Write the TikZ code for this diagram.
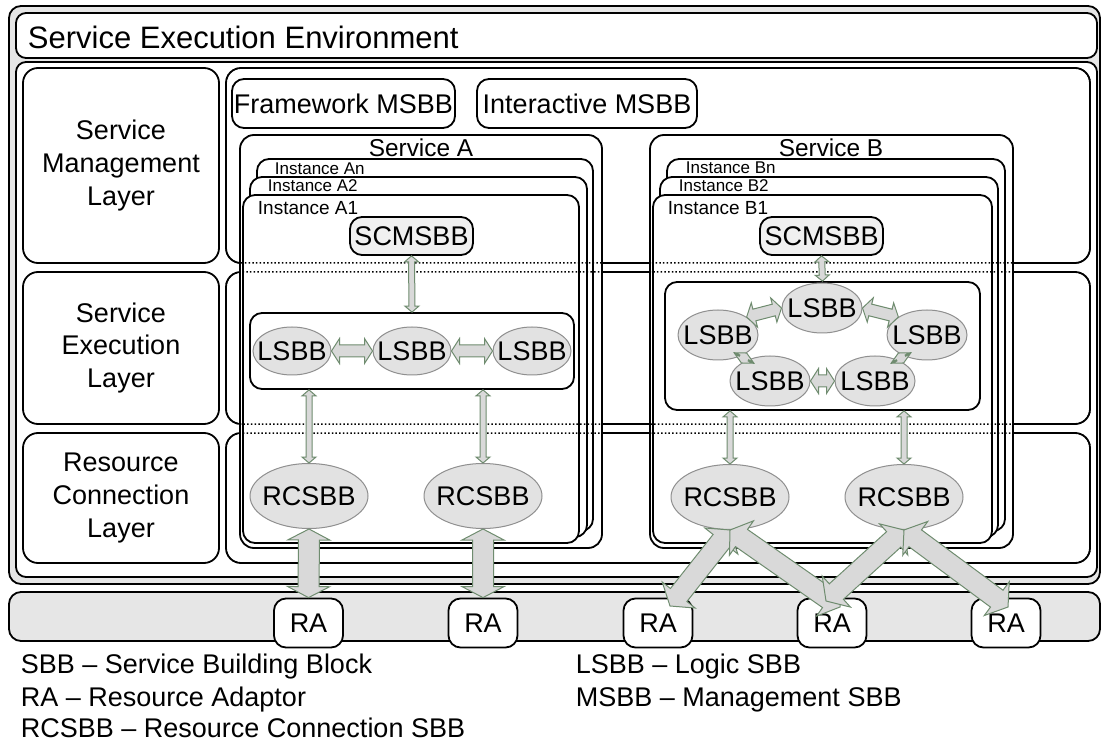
\documentclass[tikz,border=0pt]{standalone}
\usepackage{fontspec}
\setmainfont{Liberation Sans}
\usetikzlibrary{shapes.geometric,calc}

\definecolor{bggray}{HTML}{E6E6E6}
\definecolor{sbbfill}{HTML}{E2E2E2}
\definecolor{sbbline}{HTML}{8F8F8F}
\definecolor{scmfill}{HTML}{F0F0F0}
\definecolor{arrfill}{HTML}{D9D9D9}
\definecolor{arrline}{HTML}{6F8C6F}

\newcommand{\fsmain}{\fontsize{13.5pt}{16.3pt}\selectfont}
\newcommand{\fssvc}{\fontsize{12.2pt}{14pt}\selectfont}
\newcommand{\ztxt}[1]{\makebox[0pt]{#1}}

% #1 start, #2 end, #3 shaft half width, #4 head half width, #5 head length
\newcommand{\blockarrow}[5]{%
  \coordinate (ba-s) at (#1);
  \coordinate (ba-t) at (#2);
  \coordinate (ba-p) at ($(ba-s)!#5!(ba-t)$);
  \coordinate (ba-q) at ($(ba-t)!#5!(ba-s)$);
  \draw[arrowbody] (ba-s) -- ($(ba-p)!#4!90:(ba-t)$) -- ($(ba-p)!#3!90:(ba-t)$)
    -- ($(ba-q)!#3!-90:(ba-s)$) -- ($(ba-q)!#4!-90:(ba-s)$) -- (ba-t)
    -- ($(ba-q)!#4!90:(ba-s)$) -- ($(ba-q)!#3!90:(ba-s)$)
    -- ($(ba-p)!#3!-90:(ba-t)$) -- ($(ba-p)!#4!-90:(ba-t)$) -- cycle;}

\begin{document}
\begin{tikzpicture}[x=0.5pt,y=-0.5pt,line width=0.9pt,
    box/.style={draw,fill=white,rounded corners=6pt},
    lbox/.style={box,rounded corners=7.5pt,inner sep=0pt,minimum width=98pt,align=center,font=\fsmain},
    blk/.style={box,inner sep=0pt,minimum height=24.5pt,font=\fsmain},
    scm/.style={draw,fill=scmfill,rounded corners=6pt,inner sep=0pt,minimum width=61.5pt,minimum height=19pt,font=\fsmain},
    lsbb/.style={ellipse,draw=sbbline,line width=0.5pt,fill=sbbfill,inner sep=0pt,minimum width=39pt,minimum height=24pt,font=\fsmain},
    rcsbb/.style={lsbb,minimum width=59pt,minimum height=32.5pt},
    ra/.style={box,inner sep=0pt,minimum width=34.5pt,minimum height=24.5pt,font=\fsmain},
    dotline/.style={draw=black,line width=0.75pt,dash pattern=on 0.75pt off 1.1pt,rounded corners=7.5pt},
    arrowbody/.style={fill=arrfill,draw=arrline,line width=0.5pt},
    legend/.style={anchor=base west,inner sep=0pt,font=\fsmain}]
    \useasboundingbox (0,0) rectangle (1101,742);
    \draw[fill=bggray,rounded corners=6pt] (9,6) rectangle (1100,584);
    \draw[box,rounded corners=5pt] (16,13) rectangle (1097,58);
    \node[anchor=west,inner sep=0pt,font=\fontsize{15.5pt}{18pt}\selectfont] (see) at (27,37) {Service Execution Environment};
    \draw[box,rounded corners=5pt] (16,62) rectangle (1097,577);
    \node[lbox,minimum height=97.5pt] (sml) at (121,165.5) {Service\\Management\\Layer};
    \node[lbox,minimum height=76pt] (sel) at (121,348) {Service\\Execution\\Layer};
    \node[lbox,minimum height=65pt] (rcl) at (121,498) {Resource\\Connection\\Layer};
    \draw[box,rounded corners=7.5pt] (226,68) rectangle (1090,263);
    \draw[box,rounded corners=7.5pt] (226,272) rectangle (1090,424);
    \draw[box,rounded corners=7.5pt] (226,433) rectangle (1090,563);
    \node[blk,minimum width=111.5pt] (fwmsbb) at (343.5,103.5) {Framework MSBB};
    \node[blk,minimum width=110pt] (iamsbb) at (587,103.5) {Interactive MSBB};

    \draw[box,rounded corners=7pt] (240,135) rectangle (602,548);
    \draw[box] (257,159) rectangle (593,531);
    \draw[box] (250,177) rectangle (587,537);
    \draw[box] (243,195) rectangle (579,543);
    \node[font=\fssvc] (svcA) at (421,148) {Service A};
    \node[anchor=west,inner sep=0pt,font=\fontsize{8.5pt}{10pt}\selectfont] (instAn) at (274,169) {Instance An};
    \node[anchor=west,inner sep=0pt,font=\fontsize{8.5pt}{10pt}\selectfont] (instA2) at (267,186) {Instance A2};
    \node[anchor=west,inner sep=0pt,font=\fontsize{9.5pt}{11pt}\selectfont] (instA1) at (257,208) {Instance A1};

    \draw[box,rounded corners=7pt] (650,135) rectangle (1013,548);
    \draw[box] (667,159) rectangle (1005,531);
    \draw[box] (660,177) rectangle (998,537);
    \draw[box] (653,195) rectangle (992,543);
    \node[font=\fssvc] (svcB) at (831,148) {Service B};
    \node[anchor=west,inner sep=0pt,font=\fontsize{8.5pt}{10pt}\selectfont] (instBn) at (685,168) {Instance Bn};
    \node[anchor=west,inner sep=0pt,font=\fontsize{8.5pt}{10pt}\selectfont] (instB2) at (678,186) {Instance B2};
    \node[anchor=west,inner sep=0pt,font=\fontsize{9.5pt}{11pt}\selectfont] (instB1) at (667,208) {Instance B1};

    \draw[dotline] (226,68) rectangle (1090,263);
    \draw[dotline] (226,272) rectangle (1090,424);
    \draw[dotline] (226,433) rectangle (1090,563);

    \node[scm] (scmA) at (411.5,236) {SCMSBB};
    \node[scm] (scmB) at (821.5,236) {SCMSBB};
    \node[box,minimum width=162pt,minimum height=38pt] (grpA) at (412,351) {};
    \node[box,minimum width=157.5pt,minimum height=64pt] (grpB) at (822.5,346) {};
    \node[lsbb] (lsbbA1) at (292,351) {\ztxt{LSBB}};
    \node[lsbb] (lsbbA2) at (412,351) {\ztxt{LSBB}};
    \node[lsbb] (lsbbA3) at (532,351) {\ztxt{LSBB}};
    \node[lsbb,minimum width=40pt,minimum height=25pt] (lsbbBt) at (822,308) {\ztxt{LSBB}};
    \node[lsbb,minimum width=40pt,minimum height=25pt] (lsbbBl) at (718,335) {\ztxt{LSBB}};
    \node[lsbb,minimum width=40pt,minimum height=25pt] (lsbbBr) at (927,335) {\ztxt{LSBB}};
    \node[lsbb,minimum width=40pt,minimum height=25pt] (lsbbBbl) at (770,381) {\ztxt{LSBB}};
    \node[lsbb,minimum width=40pt,minimum height=25pt] (lsbbBbr) at (875,381) {\ztxt{LSBB}};
    \node[rcsbb] (rcA1) at (309,496) {\ztxt{RCSBB}};
    \node[rcsbb] (rcA2) at (483,496) {\ztxt{RCSBB}};
    \node[rcsbb] (rcB1) at (730,497) {\ztxt{RCSBB}};
    \node[rcsbb] (rcB2) at (904,497) {\ztxt{RCSBB}};

    \draw[fill=bggray,rounded corners=6pt] (9,592) rectangle (1100,641);
    \node[ra] (raA1) at (308.5,623) {RA};
    \node[ra] (raA2) at (483,623) {RA};
    \node[ra] (raB1) at (658,623) {RA};
    \node[ra] (raB2) at (832,623) {RA};
    \node[ra] (raB3) at (1006,623) {RA};

    \blockarrow{scmA.south}{grpA.north}{1.5pt}{3.5pt}{3pt}
    \blockarrow{scmB.south}{grpB.north}{1.5pt}{3.5pt}{3pt}
    \blockarrow{grpA.south -| rcA1}{rcA1.north}{1.5pt}{3.5pt}{3pt}
    \blockarrow{grpA.south -| rcA2}{rcA2.north}{1.5pt}{3.5pt}{3pt}
    \blockarrow{grpB.south -| rcB1}{rcB1.north}{1.5pt}{3.5pt}{3pt}
    \blockarrow{grpB.south -| rcB2}{rcB2.north}{1.5pt}{3.5pt}{3pt}
    \blockarrow{lsbbA1.east}{lsbbA2.west}{3pt}{6.25pt}{4pt}
    \blockarrow{lsbbA2.east}{lsbbA3.west}{3pt}{6.25pt}{4pt}
    \blockarrow{lsbbBl.north east}{lsbbBt.west}{3pt}{6.25pt}{4pt}
    \blockarrow{lsbbBt.east}{lsbbBr.north west}{3pt}{6.25pt}{4pt}
    \blockarrow{lsbbBbl.east}{lsbbBbr.west}{3pt}{6.25pt}{4pt}
    \blockarrow{lsbbBl.south east}{lsbbBbl.north west}{2.5pt}{5pt}{2.5pt}
    \blockarrow{lsbbBr.south west}{lsbbBbr.north east}{2.5pt}{5pt}{2.5pt}
    \blockarrow{rcA1.south}{raA1.north}{5.25pt}{10.5pt}{5.5pt}
    \blockarrow{rcA2.south}{raA2.north}{5.25pt}{10.5pt}{5.5pt}
    \blockarrow{rcB1.south}{$(raB1.center)+(12,-17)$}{5.25pt}{10.5pt}{7pt}
    \blockarrow{rcB1.south}{$(raB2.center)+(8,-16)$}{5.25pt}{10.5pt}{7pt}
    \blockarrow{rcB2.south}{$(raB2.center)+(-6,-22)$}{5.25pt}{10.5pt}{7pt}
    \blockarrow{rcB2.south}{$(raB3.center)+(2,-16)$}{5.25pt}{10.5pt}{7pt}

    \node[legend] (lgsbb) at (20,673) {SBB – Service Building Block};
    \node[legend] (lgra) at (20,706) {RA – Resource Adaptor};
    \node[legend] (lgrc) at (20,737) {RCSBB – Resource Connection SBB};
    \node[legend] (lglsbb) at (575,673) {LSBB – Logic SBB};
    \node[legend] (lgmsbb) at (575,706) {MSBB – Management SBB};
\end{tikzpicture}
\end{document}
